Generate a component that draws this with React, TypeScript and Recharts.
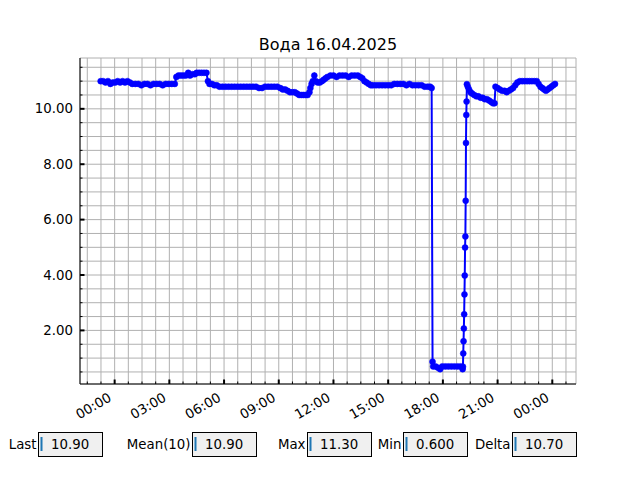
import React from 'react';
import { LineChart, Line, XAxis, YAxis, CartesianGrid } from 'recharts';

// minutes from 00:00 on 16.04 (negative = evening before)
const sampleMinutes = [
  -46, -38, -30, -22, -14, -6, 2, 10, 18, 26, 34, 42, 50,
  58, 68, 78, 88, 98, 108, 118, 128, 138, 148, 158, 168, 178, 188, 198,
  203, 210, 218, 226, 234, 242, 248, 256, 264, 270, 278, 286, 294, 302,
  307, 312, 320, 328, 336, 345, 355, 365, 375, 385, 395, 405, 415, 425, 435, 445, 455, 465, 475, 485, 495, 505, 515, 525, 535,
  545, 553, 561, 569, 577, 585, 593, 600, 607, 614, 621, 628, 635,
  641, 644, 648, 652, 657, 662, 668, 675, 682, 688, 694, 700, 710, 720, 730, 740, 750, 760, 770, 780, 790, 800,
  808, 815, 822, 829, 836, 843, 850, 860, 870, 880, 890, 900, 910, 920, 930, 940, 950, 960, 970, 980, 990, 1000, 1010, 1020, 1030, 1038, 1043,
  1046, 1048, 1056, 1064, 1071, 1078, 1088, 1098, 1108, 1118, 1128, 1138, 1145,
  1146, 1147, 1148, 1149, 1150, 1151, 1152, 1153, 1154, 1155, 1156, 1157, 1158, 1159,
  1162, 1166, 1171, 1176, 1183, 1190, 1197, 1204, 1211, 1218, 1225, 1232, 1239, 1245, 1250,
  1253, 1260, 1267, 1275, 1283, 1290, 1297, 1304, 1311, 1318, 1325, 1333, 1341, 1349, 1357, 1365, 1373, 1381, 1389,
  1395, 1401, 1407, 1413, 1419, 1425, 1431, 1437, 1443, 1449,
];

const waterLevel = [
  11.0, 11.0, 10.95, 11.0, 10.9, 10.95, 10.95, 11.0, 10.95, 11.0, 10.95, 11.0, 10.95,
  10.9, 10.9, 10.9, 10.85, 10.9, 10.9, 10.85, 10.9, 10.9, 10.9, 10.85, 10.9, 10.9, 10.9, 10.9,
  11.15, 11.2, 11.2, 11.2, 11.2, 11.3, 11.2, 11.25, 11.25, 11.3, 11.3, 11.3, 11.3, 11.3,
  11.0, 10.9, 10.9, 10.85, 10.85, 10.8, 10.8, 10.8, 10.8, 10.8, 10.8, 10.8, 10.8, 10.8, 10.8, 10.8, 10.8, 10.8, 10.75, 10.75, 10.8, 10.8, 10.8, 10.8, 10.8,
  10.75, 10.7, 10.7, 10.65, 10.6, 10.6, 10.6, 10.55, 10.5, 10.5, 10.5, 10.5, 10.5,
  10.6, 10.75, 10.9, 11.0, 11.2, 11.0, 10.95, 10.95, 11.0, 11.05, 11.1, 11.15, 11.2, 11.2, 11.15, 11.2, 11.2, 11.2, 11.15, 11.2, 11.2, 11.2,
  11.15, 11.1, 11.0, 10.95, 10.9, 10.85, 10.85, 10.85, 10.85, 10.85, 10.85, 10.85, 10.85, 10.9, 10.9, 10.9, 10.9, 10.85, 10.9, 10.85, 10.85, 10.85, 10.85, 10.8, 10.8, 10.8, 10.75,
  0.87, 0.7, 0.7, 0.65, 0.6, 0.7, 0.7, 0.7, 0.7, 0.7, 0.7, 0.7, 0.6,
  0.69, 1.17, 1.61, 2.07, 2.58, 3.3, 3.98, 4.99, 5.39, 6.68, 8.77, 9.78, 10.26, 10.89,
  10.8, 10.7, 10.6, 10.55, 10.5, 10.45, 10.45, 10.4, 10.4, 10.35, 10.35, 10.3, 10.25, 10.2, 10.2,
  10.8, 10.75, 10.7, 10.65, 10.65, 10.6, 10.65, 10.7, 10.75, 10.85, 10.95, 11.0, 11.0, 11.0, 11.0, 11.0, 11.0, 11.0, 11.0,
  10.9, 10.8, 10.75, 10.7, 10.65, 10.7, 10.75, 10.8, 10.85, 10.9,
];

const xMajorTicks = [0, 180, 360, 540, 720, 900, 1080, 1260, 1440];
const xTickLabels = ['00:00', '03:00', '06:00', '09:00', '12:00', '15:00', '18:00', '21:00', '00:00'];
const yMajorTicks = [2, 4, 6, 8, 10];
const yTickLabels = ['2.00', '4.00', '6.00', '8.00', '10.00'];

const statLabels = ['Last', 'Mean(10)', 'Max', 'Min', 'Delta'];
const statValues = ['10.90', '10.90', '11.30', '0.600', '10.70'];

const X_DOMAIN: [number, number] = [-114, 1518];
const Y_DOMAIN: [number, number] = [0.065, 11.835];

// minor ticks every 45 min / 0.5 units (grid lines sit on them)
const xMinorTicks = Array.from({ length: 36 }, (_, i) => -90 + i * 45);
const yMinorTicks = Array.from({ length: 23 }, (_, i) => 0.5 + i * 0.5);

const data = sampleMinutes.map((t, i) => ({ t, level: waterLevel[i] }));

const FONT = 'DejaVu Sans, sans-serif';

const BottomTick = (props: any) => {
  const { x, y, payload } = props;
  const idx = xMajorTicks.indexOf(payload.value);
  const major = idx >= 0;
  const ax = x - 7;
  const ay = y + 8;
  return (
    <g>
      <line x1={x} x2={x} y1={y} y2={y - (major ? 4.5 : 2.5)} stroke="#000" strokeWidth={major ? 2 : 1} />
      {major && (
        <text x={ax} y={ay} textAnchor="end" dominantBaseline="hanging" transform={`rotate(-30 ${ax} ${ay})`}
          fontSize={13.33} fontFamily={FONT} fill="#000">
          {xTickLabels[idx]}
        </text>
      )}
    </g>
  );
};

const TopTick = (props: any) => {
  const { x, y, payload } = props;
  const major = xMajorTicks.includes(payload.value);
  return <line x1={x} x2={x} y1={y} y2={y + (major ? 4.5 : 2.5)} stroke="#000" strokeWidth={major ? 2 : 1} />;
};

const LeftTick = (props: any) => {
  const { x, y, payload } = props;
  const idx = yMajorTicks.indexOf(payload.value);
  const major = idx >= 0;
  return (
    <g>
      <line x1={x} x2={x + (major ? 4.5 : 2.5)} y1={y} y2={y} stroke="#000" strokeWidth={major ? 2 : 1} />
      {major && (
        <text x={x - 7} y={y} textAnchor="end" dominantBaseline="central" fontSize={13.33} fontFamily={FONT} fill="#000">
          {yTickLabels[idx]}
        </text>
      )}
    </g>
  );
};

const RightTick = (props: any) => {
  const { x, y, payload } = props;
  const major = yMajorTicks.includes(payload.value);
  return <line x1={x} x2={x - (major ? 4.5 : 2.5)} y1={y} y2={y} stroke="#000" strokeWidth={major ? 2 : 1} />;
};

const boxLefts = [38, 192, 307, 403, 512];

export default function App() {
  return (
    <div style={{ position: 'absolute', left: 0, top: 0, width: 640, height: 480, background: '#fff' }}>
      <LineChart width={640} height={480} data={data} margin={{ top: 58, right: 64, bottom: 66, left: 20 }}>
        <CartesianGrid xAxisId="bottom" yAxisId="left" stroke="#b0b0b0" strokeWidth={1} />
        <XAxis xAxisId="bottom" dataKey="t" type="number" domain={X_DOMAIN} allowDataOverflow ticks={xMinorTicks}
          interval={0} tickSize={0} tickMargin={0} tickLine={false} height={30}
          axisLine={{ stroke: '#000', strokeWidth: 1 }} tick={(p: any) => <BottomTick {...p} />} />
        <XAxis xAxisId="top" orientation="top" dataKey="t" type="number" domain={X_DOMAIN} allowDataOverflow ticks={xMinorTicks}
          interval={0} tickSize={0} tickMargin={0} tickLine={false} height={0}
          axisLine={{ stroke: '#000', strokeWidth: 1 }} tick={(p: any) => <TopTick {...p} />} />
        <YAxis yAxisId="left" type="number" domain={Y_DOMAIN} allowDataOverflow ticks={yMinorTicks}
          interval={0} tickSize={0} tickMargin={0} tickLine={false} width={60}
          axisLine={{ stroke: '#000', strokeWidth: 1 }} tick={(p: any) => <LeftTick {...p} />} />
        <YAxis yAxisId="right" orientation="right" type="number" domain={Y_DOMAIN} allowDataOverflow ticks={yMinorTicks}
          interval={0} tickSize={0} tickMargin={0} tickLine={false} width={0}
          axisLine={{ stroke: '#000', strokeWidth: 1 }} tick={(p: any) => <RightTick {...p} />} />
        <Line xAxisId="bottom" yAxisId="left" dataKey="level" type="linear" stroke="#0000ff" strokeWidth={2}
          dot={{ r: 3, fill: '#0000ff', stroke: '#0000ff', strokeWidth: 0.5 }} activeDot={false}
          isAnimationActive={false} />
      </LineChart>

      <svg width={640} height={480} style={{ position: 'absolute', left: 0, top: 0, pointerEvents: 'none' }}>
        <text x={328} y={50} textAnchor="middle" fontSize={16} fontFamily={FONT} fill="#000">Вода 16.04.2025</text>
        {statLabels.map((label, i) => (
          <g key={label}>
            <text x={boxLefts[i] - 1.5} y={448.5} textAnchor="end" fontSize={13.33} fontFamily={FONT} fill="#000">{label}</text>
            <rect x={boxLefts[i] + 0.5} y={432.5} width={64} height={24} fill="#f0f0f0" stroke="#000" strokeWidth={1} />
            <line x1={boxLefts[i] + 3.5} x2={boxLefts[i] + 3.5} y1={437} y2={451} stroke="#1f77b4" strokeWidth={2} />
            <text x={boxLefts[i] + 13} y={448.5} fontSize={13.33} fontFamily={FONT} fill="#000">{statValues[i]}</text>
          </g>
        ))}
      </svg>
    </div>
  );
}
